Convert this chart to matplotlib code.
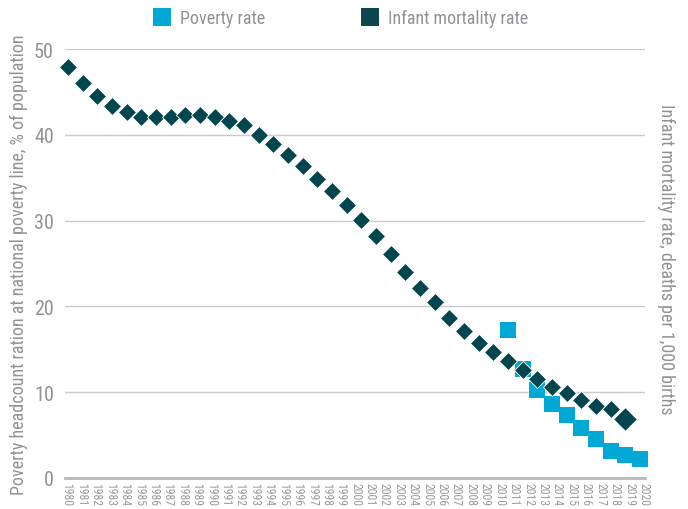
import matplotlib
matplotlib.use("Agg")
import matplotlib.pyplot as plt
from matplotlib.lines import Line2D

plt.rcParams['font.family'] = ['Roboto Condensed', 'DejaVu Sans']
plt.rcParams['font.stretch'] = 'condensed'

# data
infant_years = list(range(1980, 2019))
infant_rate = [47.9, 46.0, 44.5, 43.4, 42.6, 42.1, 42.1, 42.1, 42.3, 42.3,
               42.1, 41.6, 41.1, 40.0, 38.9, 37.7, 36.4, 34.8, 33.4, 31.8,
               30.1, 28.2, 26.1, 24.0, 22.2, 20.5, 18.6, 17.1, 15.7, 14.7,
               13.6, 12.6, 11.5, 10.6, 9.9, 9.1, 8.4, 8.0, 6.9]
poverty_years = list(range(2010, 2020))
poverty_rate = [17.2, 12.7, 10.3, 8.6, 7.3, 5.8, 4.5, 3.1, 2.7, 2.2]
label_years = list(range(1980, 2021))
y_ticks = [0, 10, 20, 30, 40, 50]

c_pov = "#00a8d6"
c_inf = "#01464f"
c_txt = "#8f9297"

fig = plt.figure(figsize=(6.88, 5.10), dpi=100)
ax = fig.add_axes([65/688, 31/510, 580/688, 429/510])

ax.plot(poverty_years, poverty_rate, ls='', marker='s', ms=12,
        color=c_pov, mew=0, clip_on=False, zorder=3)
ax.plot(infant_years[:-1], infant_rate[:-1], ls='', marker='D', ms=9,
        color=c_inf, mec='white', mew=0.6, clip_on=False, zorder=4)
ax.plot(infant_years[-1:], infant_rate[-1:], ls='', marker='D', ms=12,
        color=c_inf, mec='white', mew=0.8, clip_on=False, zorder=5)

ax.set_xlim(1979.8, 2019.34)
ax.set_ylim(0, 50)
ax.set_yticks(y_ticks)
ax.tick_params(axis='y', length=0, pad=8, labelsize=14.5, labelcolor=c_txt)
ax.set_xticks([])
ax.yaxis.grid(True, color="#cacaca", lw=1)
ax.set_axisbelow(True)
for s in ['left', 'right', 'top']:
    ax.spines[s].set_visible(False)
ax.spines['bottom'].set_color("#b8b8b8")
ax.spines['bottom'].set_linewidth(2)
ax.set_ylabel("Poverty headcount ration at national poverty line, % of population",
              fontsize=13, color=c_txt, labelpad=4)

# year labels on their own axis
ax2 = ax.twiny()
ax2.set_xlim(1979.86, 2020.07)
ax2.xaxis.set_ticks_position('bottom')
ax2.set_xticks(label_years)
ax2.set_xticklabels([str(y) for y in label_years], rotation=-90, fontsize=8.5, color="#9a9a9a")
ax2.tick_params(axis='x', length=0, pad=3)
for s in ax2.spines.values():
    s.set_visible(False)

fig.text(666/688, 1 - 259/510, "Infant mortality rate, deaths per 1,000 births",
         rotation=270, ha='center', va='center', fontsize=13, color=c_txt)

handles = [Line2D([], [], ls='', marker='s', ms=13.5, color=c_pov, mew=0),
           Line2D([], [], ls='', marker='s', ms=13.5, color="#0e4650", mew=0)]
fig.legend(handles, ["Poverty rate", "Infant mortality rate"], loc='center',
           bbox_to_anchor=(0.495, 0.962), ncol=2, frameon=False, fontsize=13,
           labelcolor=c_txt, handlelength=1.0, handletextpad=0.5, columnspacing=5.3)

fig.savefig("out.png", dpi=100)
